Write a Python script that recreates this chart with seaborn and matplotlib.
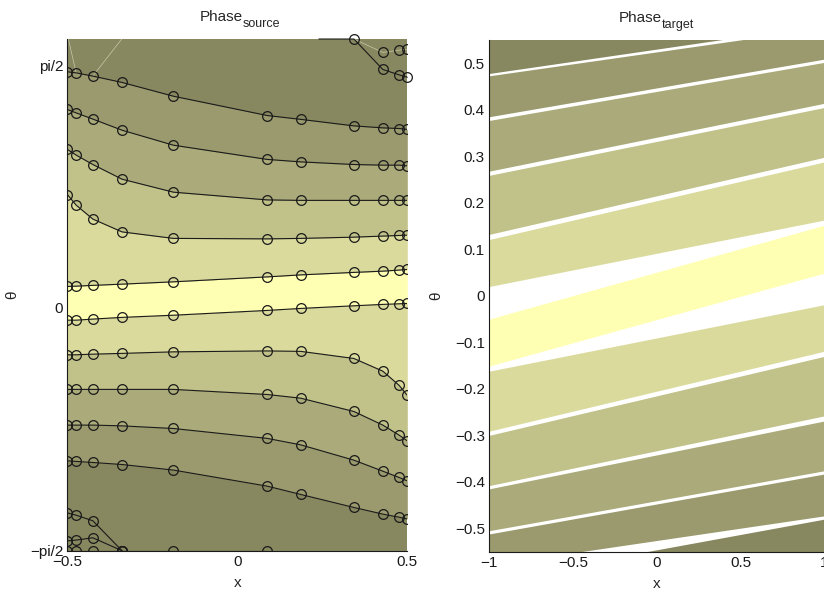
import numpy as np
import pandas as pd
import seaborn as sns
import matplotlib.pyplot as plt

# ---- Phase_source: contour vertices ----
x_nodes = [-0.5, -0.474, -0.425, -0.339, -0.188, 0.088, 0.187, 0.343, 0.428, 0.476, 0.5]

line_1 = [1.528, 1.521, 1.500, 1.459, 1.370, 1.245, 1.220, 1.178, 1.165, 1.161, 1.155]
line_2 = [1.284, 1.262, 1.222, 1.150, 1.053, 0.961, 0.945, 0.928, 0.924, 0.924, 0.919]
line_3 = [1.026, 0.989, 0.928, 0.833, 0.749, 0.699, 0.696, 0.696, 0.696, 0.696, 0.696]
line_4 = [0.734, 0.665, 0.575, 0.492, 0.450, 0.447, 0.450, 0.458, 0.465, 0.469, 0.471]
line_5 = [0.139, 0.141, 0.146, 0.154, 0.169, 0.201, 0.214, 0.230, 0.238, 0.245, 0.249]
line_6 = [-0.079, -0.079, -0.072, -0.061, -0.047, -0.016, -0.003, 0.014, 0.023, 0.027, 0.029]
line_7 = [-0.303, -0.303, -0.299, -0.294, -0.284, -0.278, -0.281, -0.327, -0.409, -0.501, -0.566]
line_8 = [-0.527, -0.527, -0.527, -0.527, -0.527, -0.560, -0.584, -0.670, -0.758, -0.823, -0.860]
line_9 = [-0.758, -0.758, -0.758, -0.763, -0.780, -0.844, -0.886, -0.985, -1.056, -1.097, -1.119]
line_10 = [-0.989, -0.993, -1.000, -1.013, -1.049, -1.153, -1.207, -1.291, -1.334, -1.354, -1.365]

# short pieces in the corners
corner_x = [-0.5, -0.474, -0.425, -0.339]
line_11 = [-1.326, -1.341, -1.377, -1.571]
line_12 = [-1.507, -1.502, -1.487, -1.571]
bottom_x = [-0.5, -0.474, -0.425, -0.339, -0.188, 0.088]
bottom_y = [-1.571, -1.571, -1.571, -1.571, -1.571, -1.571]
topright_x = [0.240, 0.343, 0.428, 0.476, 0.5]
topright_y = [1.74, 1.74, 1.543, 1.508, 1.493]
faint_x = [0.343, 0.428, 0.476, 0.5]
faint_y = [1.74, 1.653, 1.668, 1.674]

src_ylim = (-np.pi / 2, 1.74)
src_band_colors = ['#9A9A6E', '#AAAA7A', '#C1C18A', '#DADA9C', '#FFFFB3',
                   '#DADA9C', '#C1C18A', '#AAAA7A', '#9A9A6E']
dark = '#878760'

# ---- Phase_target: band edges at x=-1 and x=1 ----
tgt_colors = ['#878760', '#9A9A6E', '#AAAA7A', '#C1C18A', '#DADA9C', '#FFFFB3',
              '#DADA9C', '#C1C18A', '#AAAA7A', '#9A9A6E', '#878760']
upper_left = [0.60, 0.473, 0.377, 0.259, 0.121, -0.050, -0.162, -0.300, -0.415, -0.512, -0.612]
lower_left = [0.478, 0.385, 0.268, 0.132, 0.020, -0.151, -0.291, -0.408, -0.505, -0.579, -0.70]
upper_right = [0.65, 0.576, 0.502, 0.405, 0.288, 0.152, -0.019, -0.130, -0.269, -0.383, -0.480]
lower_right = [0.583, 0.509, 0.414, 0.298, 0.163, 0.049, -0.119, -0.258, -0.376, -0.473, -0.60]

src_xticks = [-0.5, 0, 0.5]
src_xticklabels = ['\u22120.5', '0', '0.5']
src_yticks = [-np.pi / 2, 0, np.pi / 2]
src_yticklabels = ['\u2212pi/2', '0', 'pi/2']
tgt_xticks = [-1, -0.5, 0, 0.5, 1]
tgt_xticklabels = ['\u22121', '\u22120.5', '0', '0.5', '1']
tgt_yticks = [-0.5, -0.4, -0.3, -0.2, -0.1, 0, 0.1, 0.2, 0.3, 0.4, 0.5]
tgt_yticklabels = ['\u22120.5', '\u22120.4', '\u22120.3', '\u22120.2', '\u22120.1', '0',
                   '0.1', '0.2', '0.3', '0.4', '0.5']

sns.set_theme(style='white')
plt.rcParams['font.family'] = ['Liberation Sans', 'DejaVu Sans']

fig = plt.figure(figsize=(8.24, 5.93), dpi=100)
ax1 = fig.add_axes([0.0817, 0.0713, 0.4126, 0.8629])
ax2 = fig.add_axes([0.5934, 0.0697, 0.4071, 0.8628])


def sub_title(ax, main, sub):
    # main word plus a subscript, centred over the axes
    ax.annotate(main, xy=(0.5, 1), xycoords='axes fraction', xytext=(4, 13),
                textcoords='offset points', ha='right', va='baseline', fontsize=11)
    ax.annotate(sub, xy=(0.5, 1), xycoords='axes fraction', xytext=(4, 8.3),
                textcoords='offset points', ha='left', va='baseline', fontsize=9)


# left: filled bands
ax1.fill_between(x_nodes, src_ylim[0], src_ylim[1], color=dark, lw=0, zorder=3)
src_lines = [line_1, line_2, line_3, line_4, line_5, line_6, line_7, line_8, line_9, line_10]
for i, c in enumerate(src_band_colors):
    ax1.fill_between(x_nodes, src_lines[i + 1], src_lines[i], color=c, lw=0, zorder=3)

# left: contour lines with markers
rows = []
for k, ln in enumerate(src_lines):
    for xv, yv in zip(x_nodes, ln):
        rows.append((k, xv, yv))
for k, (xs, ys) in enumerate([(corner_x, line_11), (corner_x, line_12), (bottom_x, bottom_y)]):
    for xv, yv in zip(xs, ys):
        rows.append((20 + k, xv, yv))
df = pd.DataFrame(rows, columns=['level', 'x', 'theta'])

sns.lineplot(data=df, x='x', y='theta', units='level', estimator=None, sort=False,
             color='k', lw=0.8, marker='o', markersize=7, markerfacecolor='none',
             markeredgecolor='k', markeredgewidth=0.9, ax=ax1, zorder=5, legend=False)

ax1.plot(topright_x, topright_y, color='k', lw=0.8, zorder=5, clip_on=False)
ax1.plot(topright_x[1:], topright_y[1:], ls='none', marker='o', ms=7, mfc='none',
         mec='k', mew=0.9, zorder=6, clip_on=False)
ax1.plot(faint_x, faint_y, color='#c9c9a8', lw=0.5, zorder=4)
ax1.plot(faint_x[1:], faint_y[1:], ls='none', marker='o', ms=7, mfc='none',
         mec='k', mew=0.9, zorder=6)
ax1.plot([-0.497, -0.474], [1.74, 1.521], color='#c9c9a8', lw=0.5, zorder=4)
ax1.plot([-0.34, -0.425], [1.74, 1.500], color='#c9c9a8', lw=0.5, zorder=4)

ax1.set_xlim(-0.5, 0.5)
ax1.set_ylim(*src_ylim)
ax1.set_xticks(src_xticks)
ax1.set_xticklabels(src_xticklabels)
ax1.set_yticks(src_yticks)
ax1.set_yticklabels(src_yticklabels)
sub_title(ax1, 'Phase', 'source')

# right: diagonal bands
for c, ll, ul, lr, ur in zip(tgt_colors, lower_left, upper_left, lower_right, upper_right):
    ax2.fill_between([-1, 1], [ll, lr], [ul, ur], color=c, lw=0, zorder=3)
ax2.set_xlim(-1, 1)
ax2.set_ylim(-0.55, 0.55)
ax2.set_xticks(tgt_xticks)
ax2.set_xticklabels(tgt_xticklabels)
ax2.set_yticks(tgt_yticks)
ax2.set_yticklabels(tgt_yticklabels)
sub_title(ax2, 'Phase', 'target')

for ax, ylx in ((ax1, -0.142), (ax2, -0.135)):
    ax.set_xlabel('x', fontsize=11)
    ax.set_ylabel('\u03b8', fontsize=11)
    ax.xaxis.set_label_coords(0.5, -0.05)
    ax.yaxis.set_label_coords(ylx, 0.5)
    ax.tick_params(direction='in', length=4, width=0.6, labelsize=11, pad=3,
                   color='k', labelcolor='k')
    for s in ('top', 'right'):
        ax.spines[s].set_visible(False)
    for s in ('left', 'bottom'):
        ax.spines[s].set_color('k')
        ax.spines[s].set_linewidth(0.8)
        ax.spines[s].set_zorder(4)
    ax.set_facecolor('white')

fig.savefig('out.png', dpi=100)
